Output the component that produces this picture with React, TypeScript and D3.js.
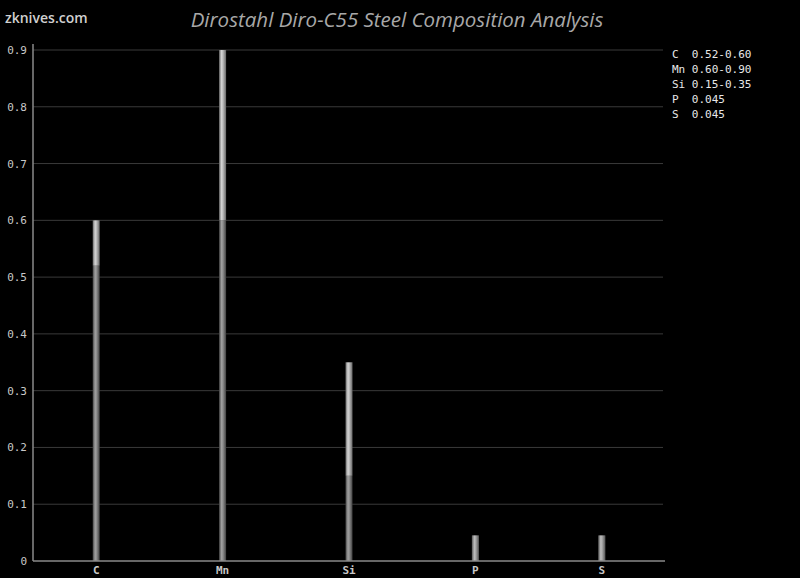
import React from "react";
import * as d3 from "d3";

const categories = ["C", "Mn", "Si", "P", "S"];
const minValues = [0.52, 0.6, 0.15, 0.045, 0.045];
const maxValues = [0.6, 0.9, 0.35, 0.045, 0.045];
const legendLabels = ["C  0.52-0.60", "Mn 0.60-0.90", "Si 0.15-0.35", "P  0.045", "S  0.045"];
const yTicks = [0, 0.1, 0.2, 0.3, 0.4, 0.5, 0.6, 0.7, 0.8, 0.9];

const W = 800;
const H = 578;
const left = 33;
const right = 663;
const top = 50;
const bottom = 561;

export default function App() {
  const x = d3.scaleBand<string>().domain(categories).range([left, right + 2]);
  const y = d3.scaleLinear().domain([0, 0.9]).range([bottom, top]);
  const barW = 7;
  const mono = "'DejaVu Sans Mono', monospace";

  return (
    <svg width={W} height={H} style={{ position: "absolute", left: 0, top: 0 }}>
      <defs>
        <linearGradient id="gUpper" x1="0" x2="1" y1="0" y2="0">
          <stop offset="0" stopColor="#6a6a6a" />
          <stop offset="0.35" stopColor="#d4d4d4" />
          <stop offset="0.55" stopColor="#bcbcbc" />
          <stop offset="1" stopColor="#666" />
        </linearGradient>
        <linearGradient id="gLower" x1="0" x2="1" y1="0" y2="0">
          <stop offset="0" stopColor="#454545" />
          <stop offset="0.35" stopColor="#a0a0a0" />
          <stop offset="0.55" stopColor="#8e8e8e" />
          <stop offset="1" stopColor="#404040" />
        </linearGradient>
      </defs>
      <rect width={W} height={H} fill="#000" />
      <text x={5} y={23} fill="#d0d0d0" fontFamily="'Open Sans', sans-serif" fontSize={14} fontWeight={600}>zknives.com</text>
      <text x={397} y={27} textAnchor="middle" fill="#a8a8a8" fontFamily="'Open Sans', sans-serif" fontStyle="italic" fontSize={20.5}>
        Dirostahl Diro-C55 Steel Composition Analysis
      </text>
      {yTicks.map((t) => (
        <g key={t}>
          {t > 0 && <line x1={left} x2={right} y1={y(t)} y2={y(t)} stroke="#3a3a3a" strokeWidth={1} />}
          <text x={27} y={y(t) + 4} textAnchor="end" fill="#c8c8c8" fontFamily={mono} fontSize={11}>
            {t === 0 ? "0" : t.toFixed(1)}
          </text>
        </g>
      ))}
      {categories.map((c, i) => {
        const cx = (x(c) as number) + x.bandwidth() / 2;
        const lo = minValues[i];
        const hi = maxValues[i];
        return (
          <g key={c}>
            <rect x={cx - barW / 2} y={y(lo)} width={barW} height={bottom - y(lo)} fill="url(#gLower)" />
            {hi > lo && (
              <rect x={cx - barW / 2} y={y(hi)} width={barW} height={y(lo) - y(hi)} fill="url(#gUpper)" />
            )}
            {hi === lo && (
              <rect x={cx - barW / 2} y={y(hi)} width={barW} height={bottom - y(hi)} fill="url(#gUpper)" opacity={0.55} />
            )}
            <text x={cx} y={574} textAnchor="middle" fill="#c8c8c8" fontFamily={mono} fontWeight="bold" fontSize={11}>{c}</text>
          </g>
        );
      })}
      <line x1={left} x2={left} y1={44} y2={bottom} stroke="#8a8a8a" strokeWidth={1.5} />
      <line x1={left} x2={right + 2} y1={bottom} y2={bottom} stroke="#8a8a8a" strokeWidth={1.5} />
      {legendLabels.map((l, i) => (
        <text key={l} x={672} y={58 + i * 15} fill="#e8e8e8" fontFamily={mono} fontSize={11} style={{ whiteSpace: "pre" }}>
          {l}
        </text>
      ))}
    </svg>
  );
}
